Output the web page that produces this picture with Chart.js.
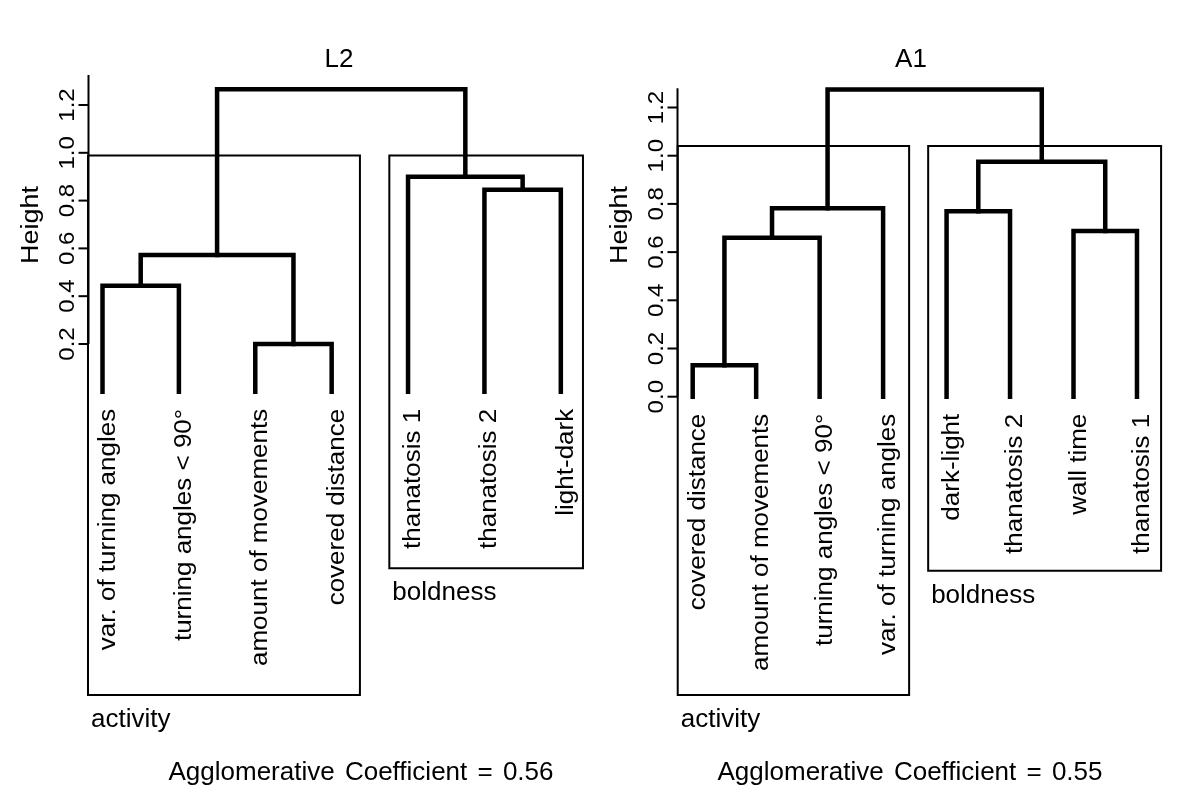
<!DOCTYPE html>
<html>
<head>
<meta charset="utf-8">
<script src="https://cdn.jsdelivr.net/npm/chart.js@4.4.1/dist/chart.umd.min.js"></script>
<style>
  html, body { margin: 0; padding: 0; background: #fff; }
  #wrap { position: relative; width: 1200px; height: 793px; }
  canvas { position: absolute; top: 0; }
</style>
</head>
<body>
<div id="wrap">
  <canvas id="c1" width="600" height="793" style="left:0"></canvas>
  <canvas id="c2" width="600" height="793" style="left:600px"></canvas>
</div>
<script>
// ======= DATA: L2 =======
const l2Title = "L2";
const l2Labels = ["var. of turning angles", "turning angles < 90°", "amount of movements",
  "covered distance", "thanatosis 1", "thanatosis 2", "light-dark"];
// merge steps (negative = leaf number, positive = earlier step), like hclust
const l2Merge = [[-3, -4], [-1, -2], [-6, -7], [2, 1], [-5, 3], [4, 5]];
const l2Heights = [0.20, 0.444, 0.845, 0.572, 0.90, 1.266];
const l2Ticks = [0.2, 0.4, 0.6, 0.8, 1.0, 1.2];
const l2Groups = ["activity", "boldness"];
const l2GroupLeaves = [[1, 4], [5, 7]];
const l2Coef = "0.56";

// ======= DATA: A1 =======
const a1Title = "A1";
const a1Labels = ["covered distance", "amount of movements", "turning angles < 90°",
  "var. of turning angles", "dark-light", "thanatosis 2", "wall time", "thanatosis 1"];
const a1Merge = [[-1, -2], [1, -3], [-7, -8], [-5, -6], [2, -4], [4, 3], [5, 6]];
const a1Heights = [0.131, 0.66, 0.688, 0.770, 0.782, 0.975, 1.275];
const a1Ticks = [0.0, 0.2, 0.4, 0.6, 0.8, 1.0, 1.2];
const a1Groups = ["activity", "boldness"];
const a1GroupLeaves = [[1, 4], [5, 8]];
const a1Coef = "0.55";

// ======= LAYOUT =======
const FONT = '"Liberation Sans", Arial, sans-serif';
const SQ = 0.92; // rotated text is a bit narrower in the original

const l2Layout = {
  xMin: -0.342, xMax: 7.513, yMin: -1.6787, yMax: 1.6393,
  axisAt: 0.81, axisTop: 1.325, axisBottom: 0.2,
  boxPad: [[0.19, 0.37], [0.245, 0.29]], boxTop: [0.989, 0.989], boxBottom: [-1.269, -0.738],
  titleX: 339, subX: 361
};
const a1Layout = {
  xMin: -0.4605, xMax: 8.993, yMin: -1.6444, yMax: 1.6461,
  axisAt: 0.745, axisTop: 1.28, axisBottom: 0.0,
  boxPad: [[0.236, 0.41], [0.29, 0.38]], boxTop: [1.04, 1.04], boxBottom: [-1.238, -0.722],
  titleX: 311, subX: 310
};

// ======= DENDROGRAMA =======
function segmentos(merge, heights) {
  const pos = [];
  const sets = [];
  merge.forEach((m, i) => {
    const ch = m.map(c => c < 0 ? { x: -c, h: 0 } : { x: pos[c - 1], h: heights[c - 1] });
    pos[i] = (ch[0].x + ch[1].x) / 2;
    sets.push({
      data: [{ x: ch[0].x, y: ch[0].h }, { x: ch[0].x, y: heights[i] },
             { x: ch[1].x, y: heights[i] }, { x: ch[1].x, y: ch[1].h }],
      borderWidth: 4.5
    });
  });
  return sets;
}

function caixas(groupLeaves, lay) {
  return groupLeaves.map((g, i) => {
    const l = g[0] - lay.boxPad[i][0], r = g[1] + lay.boxPad[i][1];
    const t = lay.boxTop[i], b = lay.boxBottom[i];
    return {
      data: [{ x: l, y: b }, { x: l, y: t }, { x: r, y: t }, { x: r, y: b }, { x: l, y: b }],
      borderWidth: 2
    };
  });
}

function vText(ctx, str, x, y, align) {
  ctx.save();
  ctx.translate(x, y);
  ctx.rotate(-Math.PI / 2);
  ctx.scale(1, SQ);
  ctx.textAlign = align;
  ctx.textBaseline = "alphabetic";
  ctx.fillText(str, 0, 0);
  ctx.restore();
}

function painel(id, title, labels, merge, heights, ticks, groups, groupLeaves, coef, lay) {
  const datasets = segmentos(merge, heights).concat(caixas(groupLeaves, lay)).map(d => ({
    ...d, showLine: true, pointRadius: 0, borderColor: "#000",
    borderCapStyle: "square", borderJoinStyle: "miter", tension: 0
  }));

  const textos = {
    id: "textos",
    afterDatasetsDraw(chart) {
      const ctx = chart.ctx;
      const xs = chart.scales.x, ys = chart.scales.y;
      ctx.save();
      ctx.fillStyle = "#000";
      ctx.strokeStyle = "#000";

      // eixo y
      const ax = Math.round(xs.getPixelForValue(lay.axisAt)) + 0.5;
      ctx.lineWidth = 2;
      ctx.beginPath();
      ctx.moveTo(ax, ys.getPixelForValue(lay.axisTop));
      ctx.lineTo(ax, ys.getPixelForValue(lay.axisBottom));
      ctx.stroke();
      ctx.font = "24px " + FONT;
      ticks.forEach(t => {
        const y = ys.getPixelForValue(t);
        ctx.beginPath();
        ctx.moveTo(ax - 10, y);
        ctx.lineTo(ax, y);
        ctx.stroke();
        vText(ctx, t.toFixed(1), ax - 15, y, "center");
      });
      ctx.font = "27px " + FONT;
      vText(ctx, "Height", ax - 51, 225, "center");

      // folhas
      ctx.font = "26px " + FONT;
      const y0 = ys.getPixelForValue(0);
      labels.forEach((lb, i) => {
        vText(ctx, lb, xs.getPixelForValue(i + 1) + 12, y0 + 17, "right");
      });

      // grupos
      ctx.textAlign = "left";
      ctx.textBaseline = "alphabetic";
      groups.forEach((g, i) => {
        const l = xs.getPixelForValue(groupLeaves[i][0] - lay.boxPad[i][0]);
        const b = ys.getPixelForValue(lay.boxBottom[i]);
        ctx.fillText(g, l + 3, b + 32);
      });

      // titulo e coeficiente
      ctx.textAlign = "center";
      ctx.fillText(title, lay.titleX, 67);
      ctx.wordSpacing = "3px";
      ctx.fillText("Agglomerative Coefficient = " + coef, lay.subX, 780);
      ctx.restore();
    }
  };

  return new Chart(document.getElementById(id), {
    type: "scatter",
    data: { datasets },
    options: {
      responsive: false,
      animation: false,
      devicePixelRatio: 1,
      layout: { padding: 0 },
      plugins: { legend: { display: false }, tooltip: { enabled: false } },
      scales: {
        x: { type: "linear", display: false, min: lay.xMin, max: lay.xMax },
        y: { type: "linear", display: false, min: lay.yMin, max: lay.yMax }
      }
    },
    plugins: [textos]
  });
}

painel("c1", l2Title, l2Labels, l2Merge, l2Heights, l2Ticks, l2Groups, l2GroupLeaves, l2Coef, l2Layout);
painel("c2", a1Title, a1Labels, a1Merge, a1Heights, a1Ticks, a1Groups, a1GroupLeaves, a1Coef, a1Layout);
</script>
</body>
</html>
